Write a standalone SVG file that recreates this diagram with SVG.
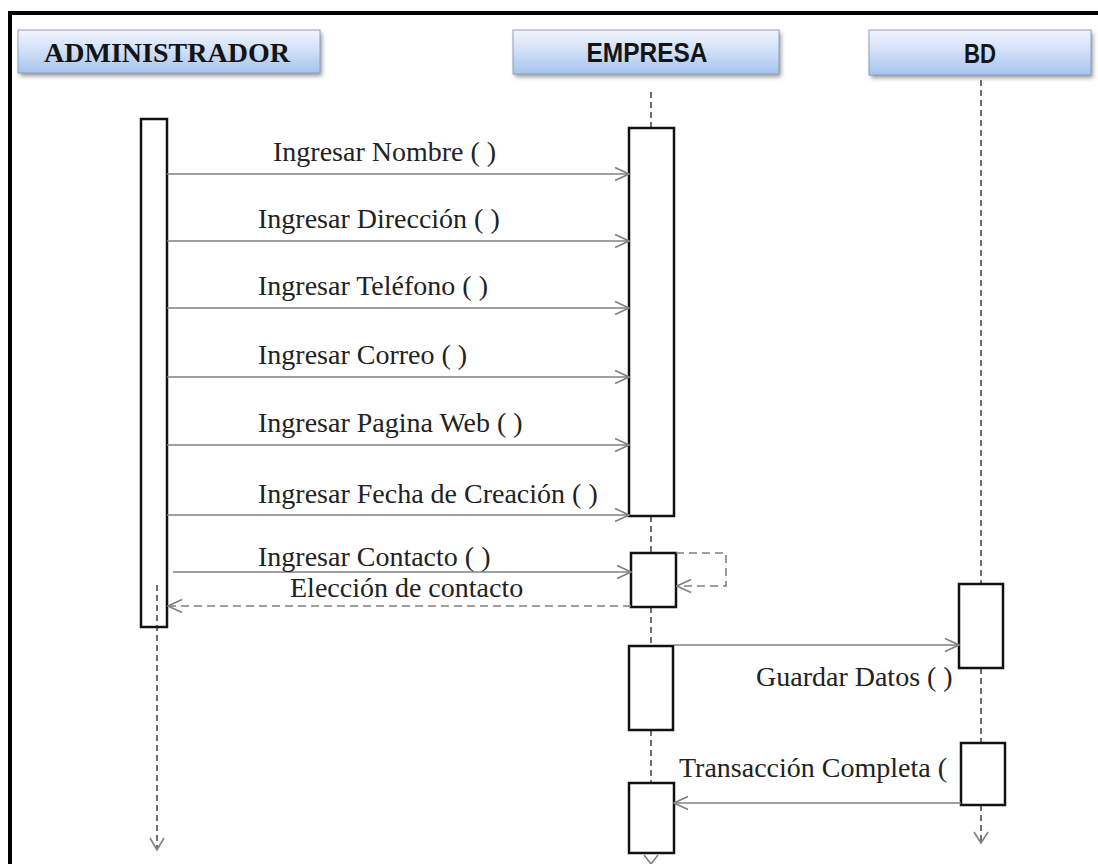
<svg xmlns="http://www.w3.org/2000/svg" width="1098" height="864" viewBox="0 0 1098 864">
  <style>
    .frame { stroke: #000; stroke-width: 4; fill: none; }
    .head { fill: url(#headFill); stroke: #8d9fbd; stroke-width: 1; }
    .shadow { fill: #9a9a9a; filter: url(#soft); }
    .htxt-serif { font-family: "Liberation Serif", "Times New Roman", serif; font-weight: bold; font-size: 28px; fill: #141414; text-anchor: middle; }
    .htxt-sans { font-family: "Liberation Sans", Arial, sans-serif; font-weight: bold; font-size: 27px; fill: #141414; text-anchor: middle; }
    .act { fill: #fff; stroke: #111; stroke-width: 2.5; }
    .life { stroke: #222; stroke-width: 1.3; stroke-dasharray: 6 4; fill: none; }
    .msg { stroke: #808080; stroke-width: 1.6; fill: none; marker-end: url(#open); }
    .ret { stroke: #808080; stroke-width: 1.6; fill: none; stroke-dasharray: 8 5; marker-end: url(#open); }
    .tip { stroke: #808080; stroke-width: 1.6; fill: none; }
    .lbl { font-family: "Liberation Serif", "Times New Roman", serif; font-size: 28px; fill: #222; }
  </style>
  <defs>
    <linearGradient id="headFill" x1="0" y1="0" x2="0" y2="1">
      <stop offset="0" stop-color="#f1f4fd"/>
      <stop offset="0.45" stop-color="#d3e1f8"/>
      <stop offset="1" stop-color="#a6c3ee"/>
    </linearGradient>
    <filter id="soft" x="-10%" y="-30%" width="120%" height="160%">
      <feGaussianBlur stdDeviation="2"/>
    </filter>
    <marker id="open" viewBox="0 0 16 16" refX="15" refY="8" markerWidth="16" markerHeight="16" markerUnits="userSpaceOnUse" orient="auto">
      <path d="M1,1.5 L15,8 L1,14.5" stroke="#808080" stroke-width="1.6" fill="none"/>
    </marker>
  </defs>

  <rect width="1098" height="864" fill="#fff"/>

  <!-- outer frame: only top and left edges fall inside the page -->
  <path class="frame" d="M10,864 L10,13 L1098,13"/>

  <!-- participant: ADMINISTRADOR -->
  <g id="administrador">
    <rect class="shadow" x="20" y="33" width="302" height="43"/>
    <rect class="head" x="18" y="30" width="302" height="43"/>
    <text class="htxt-serif" x="167" y="62">ADMINISTRADOR</text>
    <rect class="act" x="141" y="119" width="26" height="508"/>
    <line class="life" x1="157" y1="585" x2="157" y2="849"/>
    <path class="tip" d="M150,838 L157,850 L164,838"/>
  </g>

  <!-- participant: EMPRESA -->
  <g id="empresa">
    <rect class="shadow" x="515" y="33" width="266" height="44"/>
    <rect class="head" x="513" y="30" width="266" height="44"/>
    <text class="htxt-sans" x="647" y="62" textLength="121" lengthAdjust="spacingAndGlyphs">EMPRESA</text>
    <line class="life" x1="651" y1="92" x2="651" y2="128"/>
    <line class="life" x1="651" y1="516" x2="651" y2="553"/>
    <line class="life" x1="651" y1="607" x2="651" y2="646"/>
    <line class="life" x1="651" y1="730" x2="651" y2="783"/>
    <rect class="act" x="629" y="128" width="45" height="388"/>
    <rect class="act" x="631" y="553" width="45" height="54"/>
    <rect class="act" x="629" y="646" width="44" height="84"/>
    <rect class="act" x="629" y="783" width="45" height="70"/>
    <path class="tip" d="M644,855 L651,864 L658,855"/>
  </g>

  <!-- participant: BD -->
  <g id="bd">
    <rect class="shadow" x="871" y="33" width="222" height="45"/>
    <rect class="head" x="869" y="30" width="222" height="45"/>
    <text class="htxt-sans" x="980" y="63" textLength="32" lengthAdjust="spacingAndGlyphs">BD</text>
    <line class="life" x1="981" y1="80" x2="981" y2="584"/>
    <line class="life" x1="981" y1="668" x2="981" y2="743"/>
    <line class="life" x1="981" y1="805" x2="981" y2="842"/>
    <rect class="act" x="959" y="584" width="44" height="84"/>
    <rect class="act" x="961" y="743" width="44" height="62"/>
    <path class="tip" d="M974,832 L981,843 L988,832"/>
  </g>

  <!-- messages -->
  <g id="connectors">
    <line class="msg" x1="167" y1="174" x2="629" y2="174"/>
    <line class="msg" x1="167" y1="241" x2="629" y2="241"/>
    <line class="msg" x1="167" y1="308" x2="629" y2="308"/>
    <line class="msg" x1="167" y1="377" x2="629" y2="377"/>
    <line class="msg" x1="167" y1="445" x2="629" y2="445"/>
    <line class="msg" x1="167" y1="515" x2="629" y2="515"/>
    <line class="msg" x1="173" y1="572" x2="631" y2="572"/>
    <line class="ret" x1="631" y1="606" x2="168" y2="606"/>
    <path class="ret" d="M676,553 L726,553 L726,586 L677,586"/>
    <line class="msg" x1="674" y1="645" x2="959" y2="645"/>
    <line class="msg" x1="961" y1="803" x2="674" y2="803"/>
  </g>

  <!-- message labels -->
  <g id="labels">
    <text class="lbl" x="273" y="161">Ingresar Nombre ( )</text>
    <text class="lbl" x="258" y="228">Ingresar Dirección ( )</text>
    <text class="lbl" x="258" y="295">Ingresar Teléfono ( )</text>
    <text class="lbl" x="258" y="364">Ingresar Correo ( )</text>
    <text class="lbl" x="258" y="432">Ingresar Pagina Web ( )</text>
    <text class="lbl" x="258" y="503">Ingresar Fecha de Creación ( )</text>
    <text class="lbl" x="258" y="566">Ingresar Contacto ( )</text>
    <text class="lbl" x="290" y="597">Elección de contacto</text>
    <text class="lbl" x="756" y="686">Guardar Datos ( )</text>
    <text class="lbl" x="679" y="777">Transacción Completa (</text>
  </g>
</svg>
